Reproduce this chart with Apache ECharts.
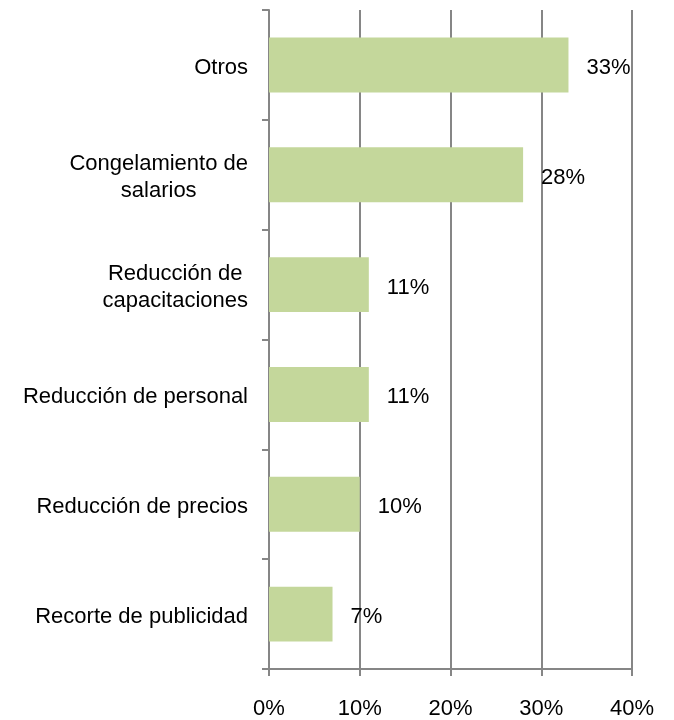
<!DOCTYPE html>
<html>
<head>
<meta charset="utf-8">
<script src="https://cdn.jsdelivr.net/npm/echarts@6/dist/echarts.min.js"></script>
<style>
  html, body { margin: 0; padding: 0; background: #fff; }
  #chart { width: 674px; height: 720px; }
</style>
</head>
<body>
<div id="chart"></div>
<script>
// bottom to top, as the category axis draws them
const categories = [
  "Recorte de publicidad",
  "Reducción de precios",
  "Reducción de personal",
  "Reducción de\ncapacitaciones",
  "Congelamiento de\nsalarios",
  "Otros"
];
const values = [7, 10, 11, 11, 28, 33];
const xTicks = [0, 10, 20, 30, 40];

const gray = "#868686";
const font = "'Liberation Sans', Arial, sans-serif";

const chart = echarts.init(document.getElementById("chart"), null, { renderer: "canvas" });

chart.setOption({
  animation: false,
  grid: { left: 269, right: 42, top: 10, bottom: 50 },
  xAxis: {
    type: "value",
    min: xTicks[0],
    max: xTicks[xTicks.length - 1],
    interval: 10,
    axisLine: { show: true, lineStyle: { color: gray, width: 2 } },
    axisTick: { show: true, length: 7, lineStyle: { color: gray, width: 2 } },
    splitLine: { show: true, lineStyle: { color: gray, width: 2 } },
    axisLabel: {
      margin: 29,
      color: "#000",
      fontFamily: font,
      fontSize: 22,
      formatter: v => v + "%"
    }
  },
  yAxis: {
    type: "category",
    data: categories,
    axisLine: { show: true, lineStyle: { color: gray, width: 2 } },
    axisTick: { show: true, length: 7, lineStyle: { color: gray, width: 2 } },
    axisLabel: {
      margin: 21,
      color: "#000",
      fontFamily: font,
      fontSize: 22,
      lineHeight: 27,
      padding: [6, 0, 0, 0],
      formatter: v => v.split("\n").map(l => "{c|" + l + "}").join("\n"),
      rich: {
        c: { align: "center", color: "#000", fontFamily: font, fontSize: 22, lineHeight: 27 }
      }
    }
  },
  series: [{
    type: "bar",
    data: values,
    barWidth: "50%",
    itemStyle: { color: "#C4D79B" },
    label: {
      show: true,
      position: "right",
      distance: 18,
      offset: [0, 3],
      color: "#000",
      fontFamily: font,
      fontSize: 22,
      formatter: p => p.value + "%"
    }
  }]
});
</script>
</body>
</html>
